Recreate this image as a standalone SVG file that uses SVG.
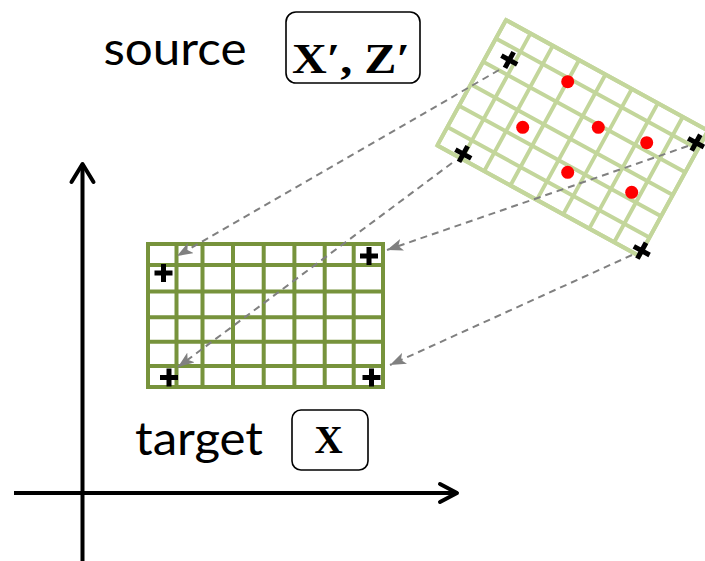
<svg xmlns="http://www.w3.org/2000/svg" xmlns:xlink="http://www.w3.org/1999/xlink" width="705" height="561" viewBox="0 0 705 561">
<style>
.lbl{font-family:Lato,"Open Sans","Liberation Sans",sans-serif;font-size:46px;fill:#000}
.math{font-family:"Liberation Serif","Times New Roman",serif;font-weight:bold;fill:#000}
.box{fill:#fff;stroke:#000;stroke-width:1.6}
.plus{stroke:#000;stroke-width:5;fill:none}
.dash{stroke:#808080;stroke-width:2;stroke-dasharray:7 5;fill:none;marker-end:url(#ah)}
.axis{stroke:#000;stroke-width:4;fill:none;stroke-linecap:butt}
.chev{stroke:#000;stroke-width:4;fill:none;stroke-linecap:round;stroke-linejoin:round}
.dot{fill:#ff0000}
</style>
<defs>
<marker id="ah" markerUnits="userSpaceOnUse" markerWidth="18" markerHeight="12" refX="16" refY="6" orient="auto">
<path d="M0,0 L16,6 L0,12 L4,6 z" fill="#808080"/>
</marker>
<g id="grid">
<rect x="0" y="0" width="235" height="143" fill="#fff"/>
<path d="M0,0 V143 M28.5,0 V143 M54.5,0 V143 M85,0 V143 M115.7,0 V143 M146.4,0 V143 M176.7,0 V143 M205.7,0 V143 M235,0 V143 M0,0 H235 M0,21 H235 M0,47.5 H235 M0,73.3 H235 M0,97.7 H235 M0,122 H235 M0,143 H235" fill="none"/>
</g>
<path id="p" d="M-9,0 H9 M0,-9 V9"/>
</defs>
<g id="axes">
<line class="axis" x1="82.5" y1="164" x2="82.5" y2="561"/>
<polyline class="chev" points="71.5,182 82.5,164 93.5,182"/>
<line class="axis" x1="14" y1="493" x2="456" y2="493"/>
<polyline class="chev" points="440,484 457,493 440,502"/>
</g>
<g id="source-grid">
<use xlink:href="#grid" transform="translate(506,20) rotate(28.7) scale(0.98,1)" stroke="#C3D69B" stroke-width="4"/>
<circle class="dot" cx="567.7" cy="81.7" r="6.5"/>
<circle class="dot" cx="522.7" cy="127.3" r="6.5"/>
<circle class="dot" cx="598.3" cy="127.3" r="6.5"/>
<circle class="dot" cx="646.7" cy="142.7" r="6.5"/>
<circle class="dot" cx="567.7" cy="172.3" r="6.5"/>
<circle class="dot" cx="631.7" cy="192.3" r="6.5"/>
</g>
<g id="target-grid">
<use xlink:href="#grid" transform="translate(148,244)" stroke="#77933C" stroke-width="4"/>
</g>
<g id="connectors">
<line class="dash" x1="499" y1="70" x2="177" y2="256"/>
<line class="dash" x1="452" y1="163" x2="178" y2="367"/>
<line class="dash" x1="688" y1="146" x2="387" y2="250"/>
<line class="dash" x1="632" y1="255" x2="390" y2="365"/>
</g>
<g id="source-marks">
<use xlink:href="#p" class="plus" transform="translate(509.3,60) rotate(28.7)"/>
<use xlink:href="#p" class="plus" transform="translate(463.3,154) rotate(28.7)"/>
<use xlink:href="#p" class="plus" transform="translate(696,142.7) rotate(28.7)"/>
<use xlink:href="#p" class="plus" transform="translate(641.7,250.7) rotate(28.7)"/>
</g>
<g id="target-marks">
<use xlink:href="#p" class="plus" transform="translate(163.5,273)"/>
<use xlink:href="#p" class="plus" transform="translate(369,256)"/>
<use xlink:href="#p" class="plus" transform="translate(169,377.5)"/>
<use xlink:href="#p" class="plus" transform="translate(371.5,377.5)"/>
</g>
<g id="source-label">
<text class="lbl" x="103.5" y="65" textLength="143" lengthAdjust="spacingAndGlyphs">source</text>
<rect class="box" x="286" y="12" width="134" height="71" rx="10"/>
<text class="math" x="292" y="73" font-size="43" textLength="118" lengthAdjust="spacingAndGlyphs">X′, Z′</text>
</g>
<g id="target-label">
<text class="lbl" x="135" y="455" textLength="128" lengthAdjust="spacingAndGlyphs">target</text>
<rect class="box" x="292" y="410" width="76" height="60" rx="9"/>
<text class="math" x="328.5" y="453" font-size="39" text-anchor="middle">X</text>
</g>
</svg>
